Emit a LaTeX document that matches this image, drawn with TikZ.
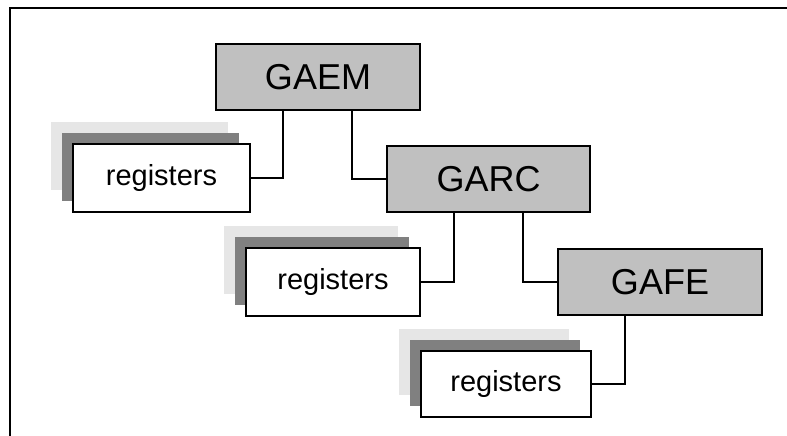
\documentclass[tikz,border=0pt]{standalone}
\usepackage{fontspec}
\setmainfont{Liberation Sans}
\usetikzlibrary{shadows,calc}
\definecolor{boxgray}{HTML}{C0C0C0}
\definecolor{shdark}{HTML}{808080}
\definecolor{shlight}{HTML}{E6E6E6}
\begin{document}
\begin{tikzpicture}[x=1pt,y=-1pt,
  unitbox/.style={draw=black, line width=2pt, fill=boxgray, inner sep=0pt,
    minimum height=66pt, font=\fontsize{36}{40}\selectfont},
  regbox/.style={draw=black, line width=2pt, fill=white, inner sep=0pt,
    minimum height=68pt, font=\fontsize{29}{34}\selectfont,
    general shadow={fill=shlight, shadow xshift=-22pt, shadow yshift=22pt},
    general shadow={fill=shdark, shadow xshift=-11pt, shadow yshift=11pt}},
  link/.style={draw=black, line width=2pt}]
\useasboundingbox (0,0) rectangle (787,436);
\fill[white] (0,0) rectangle (787,436);
\coordinate (fbl) at (10,437);
\coordinate (ftl) at (10,8.5);
\coordinate (ftr) at (788,8.5);
\draw[line width=2pt] (fbl) -- (ftl) -- (ftr);

\node[unitbox, minimum width=204pt] (gaem) at (318,77) {GAEM};
\node[unitbox, minimum width=203pt] (garc) at (488.5,179) {GARC};
\node[unitbox, minimum width=204pt] (gafe) at (660,282) {GAFE};

\node[regbox, minimum width=177pt] (r1) at (161.5,178) {registers};
\node[regbox, minimum width=174pt] (r2) at (333,282) {registers};
\node[regbox, minimum width=170pt, minimum height=66pt] (r3) at (506,384) {registers};

\draw[link] (r1.east) -| ([xshift=-35pt]gaem.south);
\draw[link] ([xshift=34pt]gaem.south) |- (garc.west);
\draw[link] (r2.east) -| ([xshift=-34.5pt]garc.south);
\draw[link] ([xshift=34.5pt]garc.south) |- (gafe.west);
\draw[link] ([xshift=-35pt]gafe.south) |- (r3.east);
\end{tikzpicture}
\end{document}
